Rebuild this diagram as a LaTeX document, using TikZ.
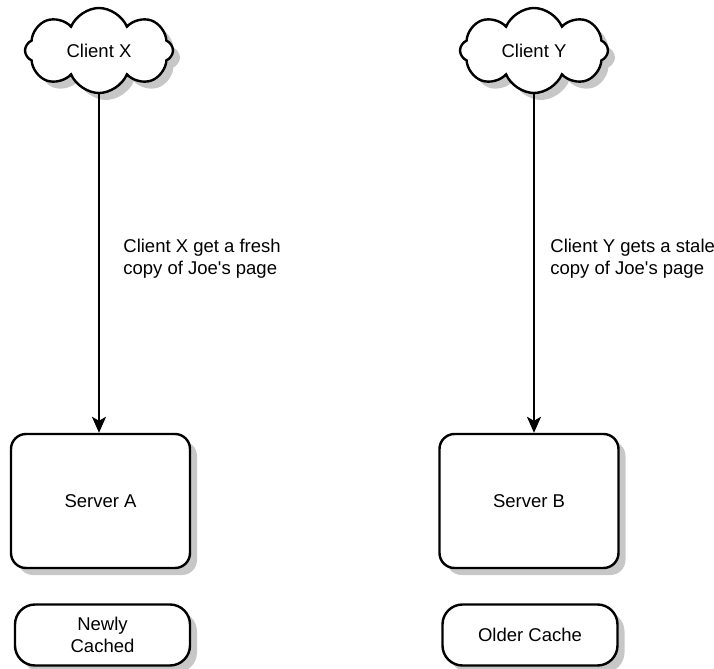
\documentclass[tikz,border=0pt]{standalone}
\usepackage{fontspec}
\setmainfont{Liberation Sans}
\usepackage{tikz}
\usetikzlibrary{arrows.meta,shapes.symbols,shadows,positioning}
\tikzset{
	softshadow/.style={drop shadow={shadow xshift=3.5pt,shadow yshift=-3.5pt,fill=black!22,opacity=1}},
	clientcloud/.style={cloud,cloud puffs=8,cloud puff arc=135,aspect=1.74,draw,fill=white,line width=1.2pt,minimum width=74pt,minimum height=42.5pt,inner sep=0pt,softshadow},
	serverbox/.style={draw,fill=white,rounded corners=7.5pt,line width=1.2pt,minimum width=89.5pt,minimum height=67pt,softshadow},
	cachebox/.style={draw,fill=white,rounded corners=10pt,line width=1.2pt,minimum width=87.5pt,minimum height=30.5pt,align=center,softshadow},
	note/.style={anchor=west,align=left,inner sep=0pt},
	flow/.style={line width=1pt,-{Stealth[length=8pt,width=7pt,inset=2pt]}},
}
\begin{document}
\begin{tikzpicture}[x=0.5pt,y=-0.5pt,font=\fontsize{9.25pt}{11pt}\selectfont]
	\useasboundingbox (0,0) rectangle (714,669);
	\node (clientX) at (99,50.5) [clientcloud] {Client X};
	\node (clientY) at (534,50.5) [clientcloud] {Client Y};
	\node (serverA) at (100.5,501) [serverbox] {Server A};
	\node (serverB) at (529,501) [serverbox] {Server B};
	\node (cacheA) at (102.5,635) [cachebox] {Newly\\Cached};
	\node (cacheB) at (530,635) [cachebox] {Older Cache};

	\draw[flow] (clientX.south) -- (clientX.south |- serverA.north);
	\draw[flow] (clientY.south) -- (clientY.south |- serverB.north);
	\node (noteX) at (123,259) [note] {Client X get a fresh\\copy of Joe\textquotesingle s page};
	\node (noteY) at (550,259) [note] {Client Y gets a stale\\copy of Joe\textquotesingle s page};
\end{tikzpicture}
\end{document}
